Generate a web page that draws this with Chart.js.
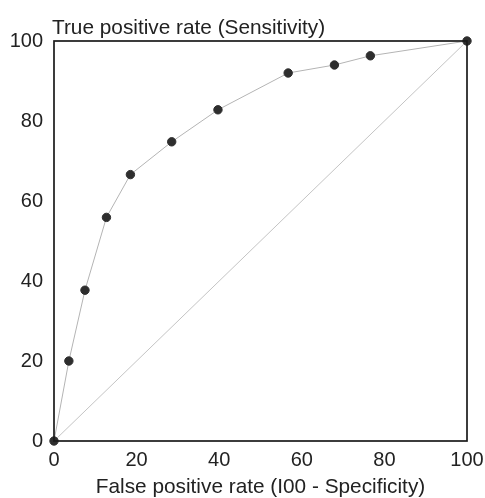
<!DOCTYPE html>
<html>
<head>
<meta charset="utf-8">
<script src="https://cdn.jsdelivr.net/npm/chart.js@4"></script>
<style>
  html, body { margin: 0; padding: 0; background: #fff; }
  #wrap { width: 485px; height: 498px; }
</style>
</head>
<body>
<div id="wrap"><canvas id="myChart" width="485" height="498"></canvas></div>
<script>
// ROC curve
var fpr = [0, 3.6, 7.5, 12.7, 18.5, 28.5, 39.7, 56.7, 67.9, 76.6, 100];
var tpr = [0, 20, 37.7, 55.9, 66.6, 74.8, 82.8, 92, 94, 96.3, 100];
var diagX = [0, 100];
var diagY = [0, 100];
var tickValues = [0, 20, 40, 60, 80, 100];

function toPoints(xs, ys) {
    return xs.map(function (x, i) { return { x: x, y: ys[i] }; });
}

var fontFamily = "'Liberation Sans', Arial, sans-serif";
var textFont = { family: fontFamily, size: 20 };

// frame round the plot + y title on top left
var framePlugin = {
    id: 'frame',
    afterDatasetsDraw: function (chart) {
        var a = chart.chartArea, c = chart.ctx;
        c.save();
        c.strokeStyle = '#1a1a1a';
        c.lineWidth = 1.7;
        c.strokeRect(a.left, a.top, a.right - a.left, a.bottom - a.top);
        c.fillStyle = '#222';
        c.font = '20.8px ' + fontFamily;
        c.textBaseline = 'alphabetic';
        c.textAlign = 'left';
        c.fillText('True positive rate (Sensitivity)', a.left - 2, a.top - 7);
        c.restore();
    }
};

var ctx = document.getElementById("myChart").getContext('2d');
var myChart = new Chart(ctx, {
    type: 'scatter',
    data: {
        datasets: [{
            data: toPoints(fpr, tpr),
            showLine: true,
            borderColor: '#b4b4b4',
            borderWidth: 1,
            pointBackgroundColor: '#2e2e2e',
            pointBorderColor: '#2e2e2e',
            pointRadius: 4.2,
            clip: false,
            order: 1
        }, {
            data: toPoints(diagX, diagY),
            showLine: true,
            borderColor: '#c4c4c4',
            borderWidth: 1,
            pointRadius: 0,
            order: 2
        }]
    },
    options: {
        responsive: false,
        animation: false,
        layout: { padding: { top: 41, right: 18, left: 0, bottom: 0 } },
        plugins: {
            legend: { display: false },
            tooltip: { enabled: false }
        },
        scales: {
            x: {
                type: 'linear',
                min: 0, max: 100,
                afterBuildTicks: function (s) { s.ticks = tickValues.map(function (v) { return { value: v }; }); },
                grid: { display: false, drawTicks: false },
                border: { display: false },
                ticks: { color: '#222', font: textFont, padding: 7 },
                title: {
                    display: true,
                    text: 'False positive rate (I00 - Specificity)',
                    color: '#222',
                    font: { family: fontFamily, size: 20.8, lineHeight: 1 },
                    padding: { top: 4, bottom: 0 }
                },
                afterFit: function (s) {
                    s.height = 57;
                    s.paddingLeft = 0;
                    s.paddingRight = 0;
                }
            },
            y: {
                type: 'linear',
                min: 0, max: 100,
                afterBuildTicks: function (s) { s.ticks = tickValues.map(function (v) { return { value: v }; }); },
                grid: { display: false, drawTicks: false },
                border: { display: false },
                ticks: { color: '#222', font: textFont, padding: 11 },
                afterFit: function (s) {
                    s.width = 54;
                    s.paddingTop = 0;
                    s.paddingBottom = 0;
                }
            }
        }
    },
    plugins: [framePlugin]
});
</script>
</body>
</html>
